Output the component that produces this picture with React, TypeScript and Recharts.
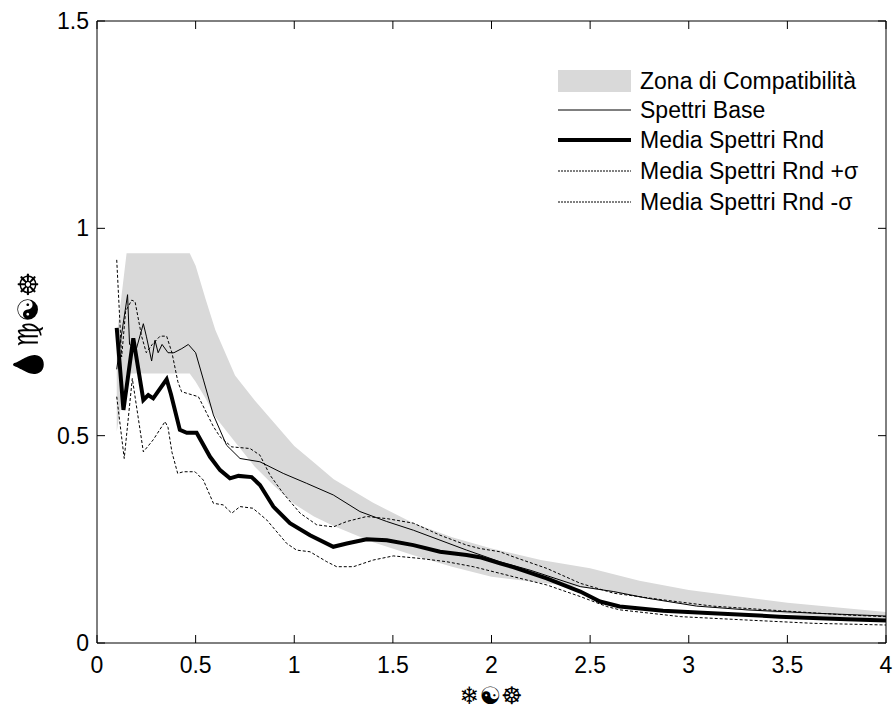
import React from "react";
import {
  ComposedChart,
  Area,
  Line,
  XAxis,
  YAxis,
  Legend,
} from "recharts";

/* =======================
   Data
======================= */
// zona di compatibilità: lower / upper bounds
const zoneT = [0.1, 0.15, 0.47, 0.5, 0.55, 0.6, 0.7, 0.8, 0.9, 1.0, 1.1, 1.2, 1.4, 1.6, 1.8, 2.0, 2.25, 2.5, 2.75, 3.0, 3.5, 4.0];
const zoneLo = [0.51, 0.65, 0.65, 0.63, 0.59, 0.545, 0.485, 0.425, 0.378, 0.335, 0.305, 0.282, 0.243, 0.212, 0.184, 0.16, 0.145, 0.132, 0.11, 0.092, 0.07, 0.054];
const zoneHi = [0.74, 0.94, 0.94, 0.91, 0.83, 0.755, 0.645, 0.585, 0.53, 0.475, 0.435, 0.395, 0.338, 0.29, 0.255, 0.228, 0.2, 0.18, 0.15, 0.128, 0.097, 0.075];

// spettri base
const baseT = [0.1, 0.12, 0.155, 0.165, 0.2, 0.235, 0.25, 0.277, 0.294, 0.31, 0.33, 0.36, 0.39, 0.43, 0.463, 0.5, 0.54, 0.59, 0.657, 0.725, 0.826, 0.944, 1.063, 1.198, 1.333, 1.469, 1.604, 1.739, 1.874, 2.043, 2.2, 2.45, 2.62, 2.79, 3.04, 3.29, 3.63, 4.0];
const baseV = [0.66, 0.73, 0.84, 0.72, 0.71, 0.77, 0.74, 0.68, 0.73, 0.7, 0.72, 0.7, 0.7, 0.71, 0.72, 0.7, 0.634, 0.55, 0.477, 0.445, 0.437, 0.409, 0.385, 0.357, 0.317, 0.293, 0.272, 0.248, 0.224, 0.196, 0.175, 0.136, 0.124, 0.108, 0.089, 0.08, 0.072, 0.065];

// media spettri rnd
const meanT = [0.1, 0.134, 0.184, 0.235, 0.26, 0.285, 0.353, 0.375, 0.42, 0.455, 0.505, 0.573, 0.624, 0.674, 0.717, 0.784, 0.826, 0.894, 0.978, 1.08, 1.198, 1.266, 1.367, 1.469, 1.604, 1.739, 1.874, 1.94, 2.043, 2.11, 2.28, 2.45, 2.55, 2.65, 2.87, 3.12, 3.46, 3.8, 4.0];
const meanV = [0.76, 0.562, 0.735, 0.586, 0.598, 0.59, 0.636, 0.6, 0.514, 0.507, 0.507, 0.449, 0.417, 0.397, 0.403, 0.4, 0.381, 0.329, 0.289, 0.26, 0.232, 0.24, 0.25, 0.248, 0.236, 0.22, 0.212, 0.207, 0.192, 0.183, 0.156, 0.124, 0.1, 0.088, 0.078, 0.072, 0.0635, 0.057, 0.054];

// media + sigma
const plusT = [0.1, 0.125, 0.145, 0.176, 0.193, 0.226, 0.25, 0.28, 0.32, 0.353, 0.38, 0.41, 0.429, 0.471, 0.514, 0.548, 0.59, 0.624, 0.683, 0.776, 0.826, 0.877, 0.944, 1.03, 1.114, 1.198, 1.266, 1.367, 1.469, 1.604, 1.739, 1.874, 1.94, 2.043, 2.11, 2.28, 2.45, 2.62, 2.87, 3.12, 3.46, 3.8, 4.0];
const plusV = [0.924, 0.69, 0.8, 0.827, 0.823, 0.74, 0.7, 0.72, 0.74, 0.74, 0.7, 0.63, 0.606, 0.6, 0.594, 0.562, 0.522, 0.497, 0.473, 0.469, 0.453, 0.405, 0.361, 0.313, 0.285, 0.28, 0.293, 0.305, 0.3, 0.289, 0.26, 0.236, 0.228, 0.22, 0.208, 0.18, 0.144, 0.12, 0.104, 0.089, 0.078, 0.0675, 0.0635];

// media - sigma
const minusT = [0.1, 0.138, 0.179, 0.235, 0.285, 0.345, 0.36, 0.38, 0.409, 0.438, 0.497, 0.539, 0.59, 0.64, 0.683, 0.725, 0.79, 0.86, 0.962, 1.012, 1.08, 1.165, 1.215, 1.3, 1.4, 1.502, 1.637, 1.773, 1.908, 2.043, 2.11, 2.28, 2.45, 2.584, 2.65, 2.96, 3.29, 3.63, 4.0];
const minusV = [0.594, 0.445, 0.638, 0.461, 0.49, 0.534, 0.52, 0.46, 0.409, 0.413, 0.413, 0.393, 0.337, 0.333, 0.313, 0.329, 0.325, 0.297, 0.24, 0.224, 0.22, 0.196, 0.184, 0.184, 0.2, 0.21, 0.204, 0.196, 0.184, 0.168, 0.16, 0.14, 0.112, 0.088, 0.08, 0.0635, 0.0555, 0.0475, 0.0434];

const xTicks = [0, 0.5, 1, 1.5, 2, 2.5, 3, 3.5, 4];
const yTicks = [0, 0.5, 1, 1.5];

const legendItems = [
  { name: "Zona di Compatibilità", kind: "zone" },
  { name: "Spettri Base", kind: "thin" },
  { name: "Media Spettri Rnd", kind: "thick" },
  { name: "Media Spettri Rnd +σ", kind: "dash" },
  { name: "Media Spettri Rnd -σ", kind: "dash" },
];

/* =======================
   Utils
======================= */
const toPoints = (ts: number[], vs: number[]) => ts.map((t, i) => ({ t, v: vs[i] }));

const zoneData = zoneT.map((t, i) => ({ t, zone: [zoneLo[i], zoneHi[i]] }));
const baseData = toPoints(baseT, baseV);
const meanData = toPoints(meanT, meanV);
const plusData = toPoints(plusT, plusV);
const minusData = toPoints(minusT, minusV);

const FONT = "'Liberation Sans', Arial, sans-serif";
const SYM = "'DejaVu Sans', sans-serif";
const TICK_LEN = 8;

/* =======================
   Ticks (MATLAB style, pointing inward)
======================= */
const BottomTick = (props: any) => {
  const { x, y, payload } = props;
  const ay = y - 8;
  return (
    <g>
      <line x1={x} x2={x} y1={ay} y2={ay - TICK_LEN} stroke="#000" />
      <text x={x} y={ay + 30} textAnchor="middle" fontFamily={FONT} fontSize={23} fill="#000">
        {payload.value}
      </text>
    </g>
  );
};

const LeftTick = (props: any) => {
  const { x, y, payload } = props;
  const ax = x + 8;
  return (
    <g>
      <line x1={ax} x2={ax + TICK_LEN} y1={y} y2={y} stroke="#000" />
      <text x={ax - 8} y={y + 8} textAnchor="end" fontFamily={FONT} fontSize={23} fill="#000">
        {payload.value}
      </text>
    </g>
  );
};

const TopTick = (props: any) => {
  const { x, y } = props;
  const ay = y + 8;
  return <line x1={x} x2={x} y1={ay} y2={ay + TICK_LEN} stroke="#000" />;
};

const RightTick = (props: any) => {
  const { x, y } = props;
  const ax = x - 8;
  return <line x1={ax} x2={ax - TICK_LEN} y1={y} y2={y} stroke="#000" />;
};

/* =======================
   Legend
======================= */
const LegendBox = () => {
  const rows = [81, 110, 140, 171, 202];
  return (
    <svg width={340} height={170} style={{ display: "block" }}>
      <g transform="translate(-550,-60)">
        {legendItems.map((item, i) => {
          const cy = rows[i];
          let sample: React.ReactNode = null;
          if (item.kind === "zone") {
            sample = <rect x={558} y={cy - 11} width={73} height={22} fill="#d9d9d9" />;
          } else if (item.kind === "thin") {
            sample = <line x1={558} x2={631} y1={cy} y2={cy} stroke="#000" strokeWidth={1} />;
          } else if (item.kind === "thick") {
            sample = <line x1={558} x2={631} y1={cy} y2={cy} stroke="#000" strokeWidth={4} />;
          } else {
            sample = (
              <line x1={558} x2={631} y1={cy} y2={cy} stroke="#000" strokeWidth={1} strokeDasharray="2 1" />
            );
          }
          return (
            <g key={item.name}>
              {sample}
              <text x={640} y={cy + 8} fontFamily={FONT} fontSize={23} fill="#000">
                {item.name}
              </text>
            </g>
          );
        })}
      </g>
    </svg>
  );
};

/* =======================
   Component
======================= */
export default function App() {
  return (
    <div style={{ position: "absolute", left: 0, top: 0, background: "#fff" }}>
      <ComposedChart
        width={896}
        height={713}
        data={zoneData}
        margin={{ top: 20, right: 9, bottom: 0, left: 0 }}
      >
        <XAxis
          xAxisId="bottom"
          dataKey="t"
          type="number"
          domain={[0, 4]}
          ticks={xTicks}
          allowDataOverflow
          height={70}
          tickLine={false}
          axisLine={{ stroke: "#000" }}
          tick={<BottomTick />}
          interval={0}
        />
        <XAxis
          xAxisId="top"
          orientation="top"
          dataKey="t"
          type="number"
          domain={[0, 4]}
          ticks={xTicks}
          allowDataOverflow
          height={1}
          tickLine={false}
          axisLine={{ stroke: "#000" }}
          tick={<TopTick />}
          interval={0}
        />
        <YAxis
          yAxisId="left"
          type="number"
          domain={[0, 1.5]}
          ticks={yTicks}
          allowDataOverflow
          width={97}
          tickLine={false}
          axisLine={{ stroke: "#000" }}
          tick={<LeftTick />}
          interval={0}
        />
        <YAxis
          yAxisId="right"
          orientation="right"
          type="number"
          domain={[0, 1.5]}
          ticks={yTicks}
          allowDataOverflow
          width={1}
          tickLine={false}
          axisLine={{ stroke: "#000" }}
          tick={<RightTick />}
          interval={0}
        />

        <Area
          xAxisId="bottom"
          yAxisId="left"
          type="linear"
          dataKey="zone"
          fill="#d9d9d9"
          fillOpacity={1}
          stroke="none"
          isAnimationActive={false}
          dot={false}
          activeDot={false}
        />
        <Line
          xAxisId="bottom"
          yAxisId="left"
          data={minusData}
          dataKey="v"
          type="linear"
          stroke="#000"
          strokeWidth={1}
          strokeDasharray="3 2"
          dot={false}
          activeDot={false}
          isAnimationActive={false}
        />
        <Line
          xAxisId="bottom"
          yAxisId="left"
          data={plusData}
          dataKey="v"
          type="linear"
          stroke="#000"
          strokeWidth={1}
          strokeDasharray="3 2"
          dot={false}
          activeDot={false}
          isAnimationActive={false}
        />
        <Line
          xAxisId="bottom"
          yAxisId="left"
          data={baseData}
          dataKey="v"
          type="linear"
          stroke="#000"
          strokeWidth={1}
          dot={false}
          activeDot={false}
          isAnimationActive={false}
        />
        <Line
          xAxisId="bottom"
          yAxisId="left"
          data={meanData}
          dataKey="v"
          type="linear"
          stroke="#000"
          strokeWidth={4}
          dot={false}
          activeDot={false}
          isAnimationActive={false}
        />
        {/* invisible copy so the top / right box axes get registered */}
        <Line
          xAxisId="top"
          yAxisId="right"
          data={meanData}
          dataKey="v"
          type="linear"
          stroke="none"
          dot={false}
          activeDot={false}
          legendType="none"
          isAnimationActive={false}
        />

        <Legend
          layout="vertical"
          align="center"
          verticalAlign="middle"
          content={<LegendBox />}
          wrapperStyle={{ position: "absolute", left: 550, top: 60, width: 340, height: 170 }}
        />

        {/* axis titles (Wingdings-looking symbols in the original) */}
        <text x={491} y={704} textAnchor="middle" fontFamily={SYM} fontSize={24} fill="#000">
          ❄☯☸
        </text>
        <text
          x={38}
          y={327}
          textAnchor="middle"
          fontFamily={SYM}
          fontSize={28}
          fill="#000"
          style={{ filter: "grayscale(1) brightness(0)" }}
          transform="rotate(-90, 38, 327)"
        >
          💧♍☯☸
        </text>
      </ComposedChart>
    </div>
  );
}
